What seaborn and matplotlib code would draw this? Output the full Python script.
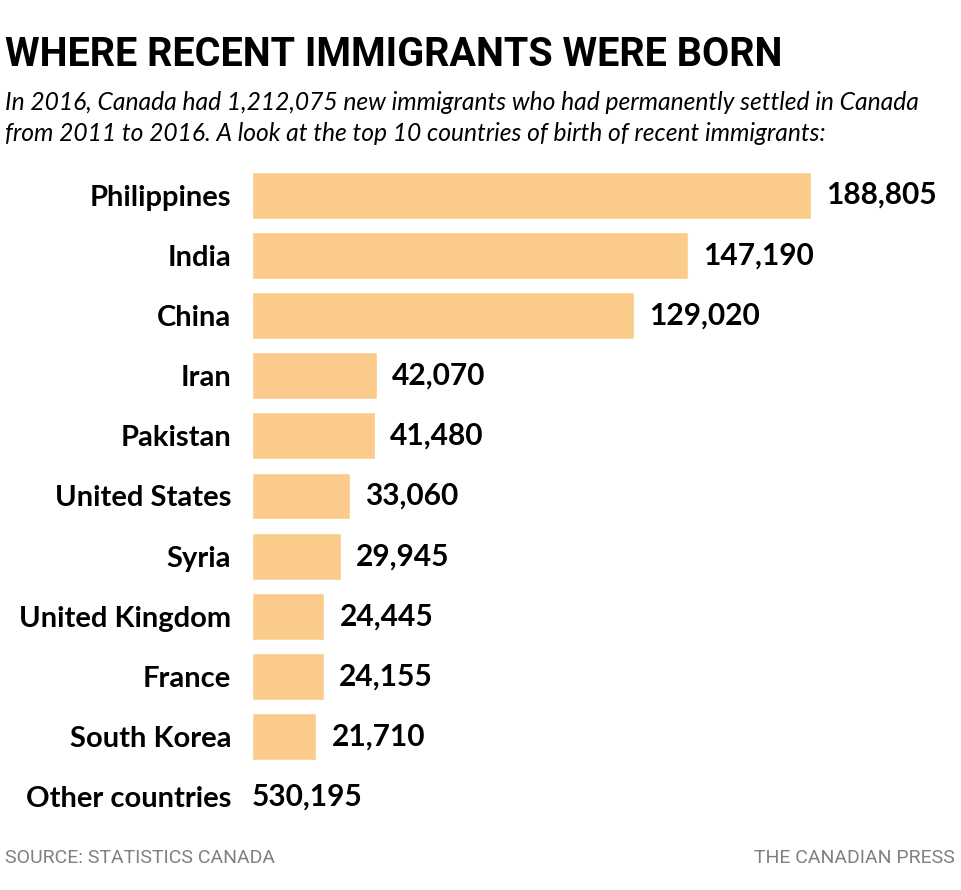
import pandas as pd
import matplotlib
matplotlib.use("Agg")
import matplotlib.pyplot as plt
import seaborn as sns
from matplotlib import font_manager

# data
countries = ['Philippines', 'India', 'China', 'Iran', 'Pakistan', 'United States',
             'Syria', 'United Kingdom', 'France', 'South Korea']
immigrants = [188805, 147190, 129020, 42070, 41480, 33060, 29945, 24445, 24155, 21710]
other_label = 'Other countries'
other_value = 530195

title = 'WHERE RECENT IMMIGRANTS WERE BORN'
subtitle = ('In 2016, Canada had 1,212,075 new immigrants who had permanently settled in Canada\n'
            'from 2011 to 2016. A look at the top 10 countries of birth of recent immigrants:')
source = 'SOURCE: STATISTICS CANADA'
credit = 'THE CANADIAN PRESS'

bar_color = '#FBCB8C'

sns.set_style('white')
names = {f.name for f in font_manager.fontManager.ttflist}
narrow = 'Liberation Sans Narrow' if 'Liberation Sans Narrow' in names else 'Roboto'
plt.rcParams['font.family'] = ['Lato', 'DejaVu Sans']
plt.rcParams['text.color'] = 'black'

df = pd.DataFrame({'country': countries + [other_label],
                   'value': immigrants + [0]})

fig = plt.figure(figsize=(9.61, 8.9), dpi=100)
ax = fig.add_axes([252 / 961, 63 / 890, (811 - 252) / 961, 662 / 890])

sns.barplot(data=df, x='value', y='country', order=df['country'], color=bar_color,
            width=0.78, saturation=1, ax=ax)
ax.set_xlim(0, max(immigrants))
ax.set_ylim(10.5, -0.5)
for s in ax.spines.values():
    s.set_visible(False)
ax.set_xticks([])
ax.set_xlabel('')
ax.set_ylabel('')
ax.tick_params(axis='y', length=0, pad=15)
for lab in ax.get_yticklabels():
    lab.set_fontsize(21)
    lab.set_fontweight('bold')
    lab.set_color('black')

# value labels
for i, v in enumerate(immigrants):
    ax.annotate(f'{v:,}', (v, i), xytext=(11, 0), textcoords='offset points',
                va='center', ha='left', fontsize=21.5, fontweight='bold',
                color='black', clip_on=False)
ax.annotate(f'{other_value:,}', (0, len(immigrants)), xytext=(0, 0), textcoords='offset points',
            va='center', ha='left', fontsize=21.5, fontweight='bold',
            color='black', clip_on=False)

fig.text(5 / 961, 1 - 55 / 890, title, fontsize=28.5, fontweight='bold', color='black',
         family=[narrow, 'DejaVu Sans'], va='center', ha='left')
fig.text(5 / 961, 1 - 118 / 890, subtitle, fontsize=17.7, style='italic', color='black',
         va='center', ha='left', linespacing=1.38)
fig.text(5 / 961, 1 - 858 / 890, source, fontsize=14, color='#808080',
         family=[narrow, 'DejaVu Sans'], va='center', ha='left')
fig.text(955 / 961, 1 - 858 / 890, credit, fontsize=14, color='#808080',
         family=[narrow, 'DejaVu Sans'], va='center', ha='right')

fig.savefig('out.png', dpi=100)
